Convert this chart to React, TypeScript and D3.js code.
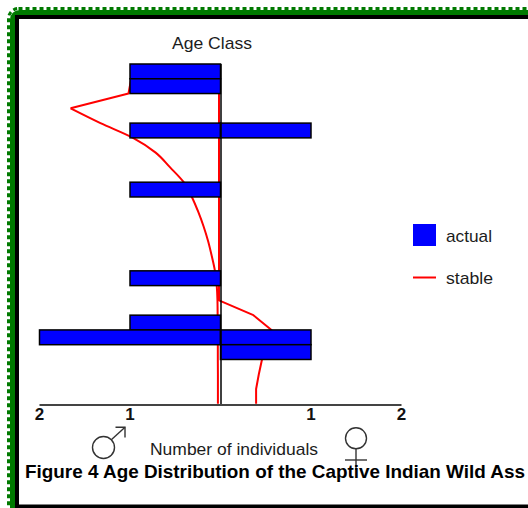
import React from "react";
import * as d3 from "d3";

// Age classes (top row = class 0)
const ageClasses = [0, 1, 2, 3, 4, 5, 6, 7, 8, 9, 10, 11, 12, 13, 14, 15, 16, 17, 18, 19, 20, 21, 22];
// Actual number of individuals per age class
const maleActual = [1, 1, 0, 0, 1, 0, 0, 0, 1, 0, 0, 0, 0, 0, 1, 0, 0, 1, 2, 0, 0, 0, 0];
const femaleActual = [0, 0, 0, 0, 1, 0, 0, 0, 0, 0, 0, 0, 0, 0, 0, 0, 0, 0, 1, 1, 0, 0, 0];
// Stable distribution, read at class boundaries (24 values)
const maleStable = [0.95, 0.97, 1.0, 1.64, 1.31, 0.95, 0.7, 0.54, 0.39, 0.3, 0.23, 0.17, 0.12, 0.08, 0.045, 0.025, 0.017, 0.015, 0.014, 0.013, 0.013, 0.012, 0.012, 0.012];
const femaleStable = [0, 0, 0, 0, 0, 0, 0, 0, 0, 0, 0, 0, 0, 0, 0, 0, 0, 0.38, 0.58, 0.5, 0.475, 0.44, 0.41, 0.41];
const tickValues = [-2, -1, 1, 2];
const legendItems = ["actual", "stable"];

const FONT = "'Liberation Sans', Arial, sans-serif";

export default function App() {
  const W = 528;
  const H = 508;
  const x = d3.scaleLinear().domain([-2, 2]).range([39.5, 401.5]);
  const y = d3.scaleLinear().domain([0, ageClasses.length]).range([64, 403.8]);
  const axisY = 405;

  const malePts = maleStable.map((v, i) => [x(-v), y(i)] as [number, number]);
  const maleHead = d3.line().curve(d3.curveLinear)(malePts.slice(0, 4)) as string;
  const maleTail = d3.line().curve(d3.curveMonotoneY)(malePts.slice(3)) as string;
  const femaleLine = d3
    .line<number>()
    .x((v) => x(v))
    .y((_, i) => y(i))(femaleStable) as string;

  const textColor = "#1c1c1c";
  const symColor = "#333";

  return (
    <svg
      width={W}
      height={H}
      style={{ position: "absolute", left: 0, top: 0, background: "#fff" }}
    >
      <rect x={0} y={0} width={W} height={H} fill="#fff" />
      {/* frame */}
      <rect x={12.5} y={12.5} width={620} height={620} rx={7} fill="none" stroke="#007a00" strokeWidth={5} />
      <rect x={8.5} y={8.5} width={620} height={620} rx={10} fill="none" stroke="#007a00" strokeWidth={3} strokeDasharray="4 3" />
      <rect x={17} y={17} width={620} height={489.5} fill="#fff" stroke="#000" strokeWidth={4} />

      {/* title */}
      <text x={212} y={49} textAnchor="middle" fontFamily={FONT} fontSize={17} fill={textColor} textLength={80} lengthAdjust="spacingAndGlyphs">
        Age Class
      </text>

      {/* stable lines */}
      <g transform="translate(-1.5,0)" fill="none" stroke="#ff0000" strokeWidth={2} strokeLinejoin="round">
        <path d={maleHead} />
        <path d={maleTail} />
        <path d={femaleLine} />
      </g>

      {/* bars */}
      <g fill="#0000ff" stroke="#000" strokeWidth={1.5}>
        {ageClasses.map((a) =>
          maleActual[a] > 0 ? (
            <rect key={"m" + a} x={x(-maleActual[a])} y={y(a)} width={x(0) - x(-maleActual[a])} height={y(a + 1) - y(a)} />
          ) : null
        )}
        {ageClasses.map((a) =>
          femaleActual[a] > 0 ? (
            <rect key={"f" + a} x={x(0)} y={y(a)} width={x(femaleActual[a]) - x(0)} height={y(a + 1) - y(a)} />
          ) : null
        )}
      </g>

      {/* center line */}
      <line x1={x(0) + 0.5} x2={x(0) + 0.5} y1={y(0)} y2={axisY} stroke="#000" strokeWidth={1.5} />

      {/* axis */}
      <line x1={x(-2)} x2={x(2)} y1={axisY} y2={axisY} stroke="#444" strokeWidth={2} />
      {tickValues.map((t) => (
        <text key={t} x={x(t)} y={420} textAnchor="middle" fontFamily={FONT} fontWeight="bold" fontSize={17} fill="#111">
          {Math.abs(t)}
        </text>
      ))}

      {/* male symbol */}
      <g fill="none" stroke={symColor} strokeWidth={1.4}>
        <circle cx={103.5} cy={447.5} r={11} />
        <line x1={111.3} y1={439.7} x2={125} y2={427.3} />
        <polyline points="115.5,427.3 125,427.3 125,437.5" />
      </g>
      {/* female symbol */}
      <g fill="none" stroke={symColor} strokeWidth={1.4}>
        <circle cx={356} cy={438.3} r={10.5} />
        <line x1={356} y1={448.8} x2={356} y2={470} />
        <line x1={345} y1={460} x2={367} y2={460} />
      </g>

      <text x={150} y={455} fontFamily={FONT} fontSize={17} fill={textColor} textLength={168} lengthAdjust="spacingAndGlyphs">
        Number of individuals
      </text>

      {/* legend */}
      <rect x={413} y={224} width={23} height={22} fill="#0000ff" />
      <text x={446} y={241.5} fontFamily={FONT} fontSize={17} fill={textColor} textLength={46} lengthAdjust="spacingAndGlyphs">
        {legendItems[0]}
      </text>
      <line x1={413} x2={436} y1={277.5} y2={277.5} stroke="#ff0000" strokeWidth={2} />
      <text x={446} y={284} fontFamily={FONT} fontSize={17} fill={textColor} textLength={47} lengthAdjust="spacingAndGlyphs">
        {legendItems[1]}
      </text>

      {/* caption */}
      <text x={25} y={478} fontFamily={FONT} fontWeight="bold" fontSize={19} fill="#000" textLength={500} lengthAdjust="spacingAndGlyphs">
        Figure 4 Age Distribution of the Captive Indian Wild Ass
      </text>
    </svg>
  );
}
